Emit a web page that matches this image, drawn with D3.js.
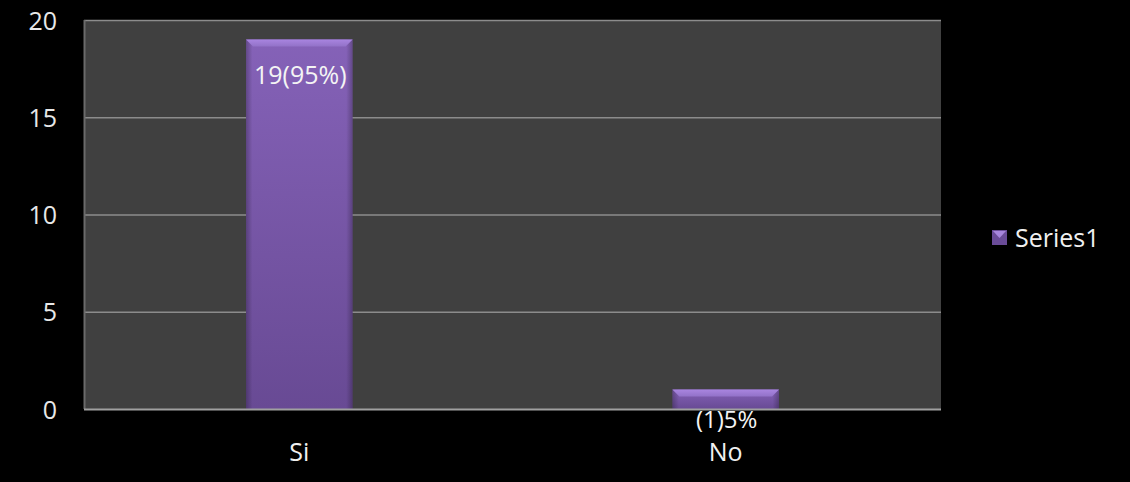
<!DOCTYPE html>
<html>
<head>
<meta charset="utf-8">
<script src="https://cdn.jsdelivr.net/npm/d3@7"></script>
<style>
  html, body { margin: 0; padding: 0; background: #000; }
  svg { display: block; }
</style>
</head>
<body>
<svg id="chart" width="1130" height="482"></svg>
<script>
// Survey answers and counts
const categories = ["Si", "No"];
const values = [19, 1];
const valueLabels = ["19(95%)", "(1)5%"];
const yTicks = [0, 5, 10, 15, 20];
const seriesName = "Series1";

const plot = { left: 84, top: 20, right: 941, bottom: 409 };
const font = "'Open Sans', Lato, sans-serif";
const fontSize = 25;
const labelSize = 24;

const svg = d3.select("#chart");

const x = d3.scaleBand()
  .domain(categories)
  .range([plot.left, plot.right])
  .paddingInner(0.75)
  .paddingOuter(0.38);

const y = d3.scaleLinear()
  .domain([0, 20])
  .range([plot.bottom, plot.top]);

// Gradients for the bevelled bars
const defs = svg.append("defs");
const body = defs.append("linearGradient")
  .attr("id", "barBody").attr("x1", 0).attr("y1", 0).attr("x2", 0).attr("y2", 1);
body.append("stop").attr("offset", "0%").attr("stop-color", "#8562b8");
body.append("stop").attr("offset", "100%").attr("stop-color", "#684a94");

const side = defs.append("linearGradient")
  .attr("id", "barSide").attr("x1", 0).attr("y1", 0).attr("x2", 1).attr("y2", 0);
side.append("stop").attr("offset", "0%").attr("stop-color", "#000").attr("stop-opacity", 0.25);
side.append("stop").attr("offset", "6%").attr("stop-color", "#000").attr("stop-opacity", 0);
side.append("stop").attr("offset", "94%").attr("stop-color", "#000").attr("stop-opacity", 0);
side.append("stop").attr("offset", "100%").attr("stop-color", "#000").attr("stop-opacity", 0.25);

const bevel = defs.append("linearGradient")
  .attr("id", "barBevel").attr("x1", 0).attr("y1", 0).attr("x2", 0).attr("y2", 1);
bevel.append("stop").attr("offset", "0%").attr("stop-color", "#a985e0");
bevel.append("stop").attr("offset", "100%").attr("stop-color", "#9272c8");

// Plot area
svg.append("rect")
  .attr("x", plot.left).attr("y", plot.top)
  .attr("width", plot.right - plot.left).attr("height", plot.bottom - plot.top)
  .attr("fill", "#404040");

// Horizontal gridlines
svg.append("g")
  .selectAll("line")
  .data(yTicks.filter(d => d > 0))
  .join("line")
  .attr("x1", plot.left).attr("x2", plot.right)
  .attr("y1", d => y(d) + 0.5).attr("y2", d => y(d) + 0.5)
  .attr("stroke", "#8c8c8c").attr("stroke-width", 1.5);

// Left axis line
svg.append("line")
  .attr("x1", plot.left + 0.5).attr("x2", plot.left + 0.5)
  .attr("y1", plot.top).attr("y2", plot.bottom)
  .attr("stroke", "#6a6a6a").attr("stroke-width", 2);

// Y tick labels
const yAxis = d3.axisLeft(y).tickValues(yTicks).tickSize(0).tickPadding(27);
const yg = svg.append("g").attr("transform", `translate(${plot.left},0)`).call(yAxis);
yg.select(".domain").remove();
yg.selectAll("text")
  .attr("fill", "#e8e8e8").attr("font-size", fontSize).attr("font-family", font)
  .attr("dy", "0.36em");

// Bars
const bars = svg.append("g").selectAll("g")
  .data(categories.map((c, i) => ({ c, v: values[i], label: valueLabels[i] })))
  .join("g");

bars.append("rect")
  .attr("x", d => x(d.c)).attr("width", x.bandwidth())
  .attr("y", d => y(d.v)).attr("height", d => y(0) - y(d.v))
  .attr("fill", "url(#barBody)");
bars.append("rect")
  .attr("x", d => x(d.c)).attr("width", x.bandwidth())
  .attr("y", d => y(d.v)).attr("height", d => y(0) - y(d.v))
  .attr("fill", "url(#barSide)");
// Top bevel
bars.append("path")
  .attr("d", d => {
    const x0 = x(d.c), x1 = x0 + x.bandwidth(), t = y(d.v), b = 7;
    return `M${x0},${t}L${x1},${t}L${x1 - b},${t + b}L${x0 + b},${t + b}Z`;
  })
  .attr("fill", "url(#barBevel)");

// X axis line
svg.append("line")
  .attr("x1", plot.left).attr("x2", plot.right)
  .attr("y1", plot.bottom + 0.5).attr("y2", plot.bottom + 0.5)
  .attr("stroke", "#a0a0a0").attr("stroke-width", 2);

// Value labels: inside the tall bar, just under the short one
bars.append("text")
  .attr("x", d => x(d.c) + x.bandwidth() / 2 + 1)
  .attr("y", d => d.v > 5 ? y(d.v) + 45 : y(0) + 19)
  .attr("text-anchor", "middle")
  .attr("fill", "#f4f4f4").attr("font-size", d => d.v > 5 ? fontSize : labelSize)
  .attr("font-family", font)
  .text(d => d.label);

// Category labels
const xg = svg.append("g");
xg.selectAll("text")
  .data(categories)
  .join("text")
  .attr("x", d => x(d) + x.bandwidth() / 2)
  .attr("y", plot.bottom + 52)
  .attr("text-anchor", "middle")
  .attr("fill", "#f0f0f0").attr("font-size", fontSize).attr("font-family", font)
  .text(d => d);

// Legend
const lg = svg.append("g").attr("transform", "translate(992,230)");
lg.append("rect").attr("width", 15).attr("height", 15).attr("fill", "#6a4c98");
lg.append("path").attr("d", "M1,1L14,1L7.5,8Z").attr("fill", "#a786dc");
lg.append("text")
  .attr("x", 23).attr("y", 17)
  .attr("fill", "#f0f0f0").attr("font-size", fontSize).attr("font-family", font)
  .text(seriesName);
</script>
</body>
</html>
